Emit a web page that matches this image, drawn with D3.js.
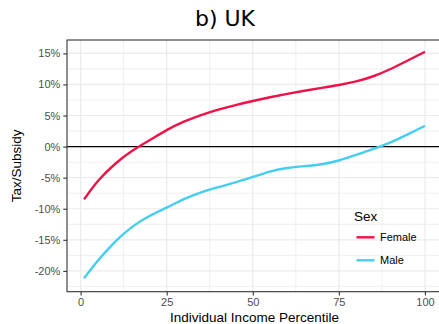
<!DOCTYPE html>
<html>
<head>
<meta charset="utf-8">
<script src="https://cdn.jsdelivr.net/npm/d3@7"></script>
<style>
  html, body { margin: 0; padding: 0; background: #fff; }
  svg { display: block; }
  text { font-family: "Liberation Sans", Arial, sans-serif; }
</style>
</head>
<body>
<svg id="chart" width="439" height="324"></svg>
<script>
// Income percentile (x) and net tax/subsidy as % (y) by sex
const percentiles = [1, 5, 10, 15, 20, 25, 30, 35, 40, 45, 50, 55, 60, 65, 70, 75, 80, 85, 90, 95, 100];
const femaleValues = [-8.5, -5.4, -2.7, -0.6, 1.0, 2.7, 4.05, 5.1, 5.95, 6.7, 7.35, 7.95, 8.5, 9.0, 9.45, 9.9, 10.45, 11.25, 12.45, 13.85, 15.25];
const maleValues = [-21.2, -18.3, -15.2, -12.8, -11.1, -9.85, -8.4, -7.3, -6.5, -5.8, -4.9, -3.95, -3.4, -3.15, -2.9, -2.3, -1.35, -0.4, 0.65, 1.95, 3.35];
const seriesNames = ["Female", "Male"];
const seriesColors = ["#EE1249", "#45CDF2"];
const xTicks = [0, 25, 50, 75, 100];
const yTicks = [-20, -15, -10, -5, 0, 5, 10, 15];

const svg = d3.select("#chart");
const panel = { left: 67, right: 442, top: 40, bottom: 291.7 };

const x = d3.scaleLinear().domain([-3.95, 104.95]).range([panel.left, panel.right]);
const y = d3.scaleLinear().domain([-23.35, 17.15]).range([panel.bottom, panel.top]);

// Grid: minor then major
const g = svg.append("g");
const xMinor = [12.5, 37.5, 62.5, 87.5];
const yMinor = [-22.5, -17.5, -12.5, -7.5, -2.5, 2.5, 7.5, 12.5];
g.selectAll(".xminor").data(xMinor).join("line")
  .attr("x1", d => x(d)).attr("x2", d => x(d))
  .attr("y1", panel.top).attr("y2", panel.bottom)
  .attr("stroke", "#ebebeb").attr("stroke-width", 0.8);
g.selectAll(".yminor").data(yMinor).join("line")
  .attr("x1", panel.left).attr("x2", panel.right)
  .attr("y1", d => y(d)).attr("y2", d => y(d))
  .attr("stroke", "#ebebeb").attr("stroke-width", 0.8);
g.selectAll(".xmajor").data(xTicks).join("line")
  .attr("x1", d => x(d)).attr("x2", d => x(d))
  .attr("y1", panel.top).attr("y2", panel.bottom)
  .attr("stroke", "#ebebeb").attr("stroke-width", 1.2);
g.selectAll(".ymajor").data(yTicks).join("line")
  .attr("x1", panel.left).attr("x2", panel.right)
  .attr("y1", d => y(d)).attr("y2", d => y(d))
  .attr("stroke", "#ebebeb").attr("stroke-width", 1.2);

// Zero reference line
svg.append("line")
  .attr("x1", panel.left).attr("x2", panel.right)
  .attr("y1", y(0)).attr("y2", y(0))
  .attr("stroke", "#000").attr("stroke-width", 1.1);

// Smoothed series lines
const line = d3.line()
  .x((d, i) => x(percentiles[i]))
  .y(d => y(d))
  .curve(d3.curveBasis);
[femaleValues, maleValues].forEach((vals, k) => {
  svg.append("path")
    .attr("d", line(vals))
    .attr("fill", "none")
    .attr("stroke", seriesColors[k])
    .attr("stroke-width", 2.4)
    .attr("stroke-linecap", "butt");
});

// Panel border
svg.append("rect")
  .attr("x", panel.left).attr("y", panel.top)
  .attr("width", panel.right - panel.left).attr("height", panel.bottom - panel.top)
  .attr("fill", "none").attr("stroke", "#333").attr("stroke-width", 1.1);

// Axes
const xAxis = svg.append("g")
  .attr("transform", `translate(0,${panel.bottom})`)
  .call(d3.axisBottom(x).tickValues(xTicks).tickSize(3.7).tickPadding(3).tickFormat(d3.format("d")));
const yAxis = svg.append("g")
  .attr("transform", `translate(${panel.left},0)`)
  .call(d3.axisLeft(y).tickValues(yTicks).tickSize(3.7).tickPadding(3).tickFormat(d => d + "%"));
[xAxis, yAxis].forEach(a => {
  a.select(".domain").remove();
  a.selectAll(".tick line").attr("stroke", "#333").attr("stroke-width", 1.1);
  a.selectAll(".tick text").attr("fill", "#4d4d4d")
    .style("font-family", "'Liberation Sans', Arial, sans-serif").style("font-size", "11px");
});

// Axis titles
svg.append("text")
  .attr("x", (panel.left + panel.right) / 2).attr("y", 322)
  .attr("text-anchor", "middle").style("font-size", "13.5px").attr("fill", "#000")
  .text("Individual Income Percentile");
svg.append("text")
  .attr("transform", `translate(21,${(panel.top + panel.bottom) / 2}) rotate(-90)`)
  .attr("text-anchor", "middle").style("font-size", "13.5px").attr("fill", "#000")
  .text("Tax/Subsidy");

// Title
svg.append("text")
  .attr("x", 225).attr("y", 26)
  .attr("text-anchor", "middle")
  .style("font-family", "'DejaVu Sans', sans-serif").style("font-size", "22px")
  .attr("fill", "#000")
  .text("b) UK");

// Legend
const legend = svg.append("g");
legend.append("text")
  .attr("x", 354).attr("y", 221)
  .style("font-size", "13.5px").attr("fill", "#000").text("Sex");
seriesNames.forEach((name, i) => {
  const cy = 237.3 + i * 23;
  legend.append("line")
    .attr("x1", 356.5).attr("x2", 374.5)
    .attr("y1", cy).attr("y2", cy)
    .attr("stroke", seriesColors[i]).attr("stroke-width", 2.4);
  legend.append("text")
    .attr("x", 380).attr("y", cy + 4)
    .style("font-size", "11px").attr("fill", "#000").text(name);
});
</script>
</body>
</html>
